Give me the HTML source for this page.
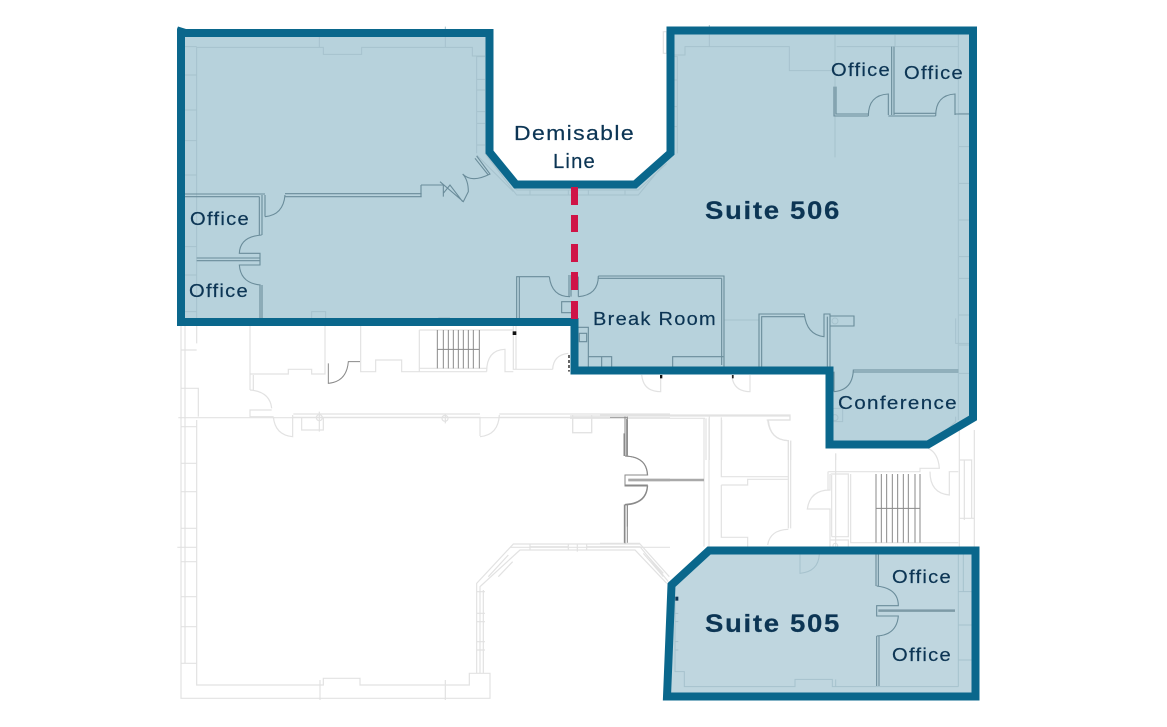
<!DOCTYPE html>
<html><head><meta charset="utf-8"><style>
html,body{margin:0;padding:0;background:#fff;width:1167px;height:727px;overflow:hidden}
svg{display:block}
path,circle,rect.l{vector-effect:non-scaling-stroke;fill:none}
.o{stroke:#e2e2e2;stroke-width:1.2}
.d{stroke:#8a8a8a;stroke-width:1}
.t{stroke:#a9a9a9;stroke-width:2.5}
.i{stroke:#a6c2cd;stroke-width:1}
.k{stroke:#6a8c9a;stroke-width:1.1}
.kt{stroke:#7d9aa6;stroke-width:2.5}
text{font-family:"Liberation Sans",sans-serif;fill:#0c3554;font-size:18.5px;letter-spacing:1.2px;stroke:#0c3554;stroke-width:.2}
text.b{font-weight:bold;font-size:25px;letter-spacing:1.5px}
</style></head><body>
<svg width="1167" height="727" viewBox="0 0 1167 727" xmlns="http://www.w3.org/2000/svg">
<rect width="1167" height="727" fill="#fff"/>

<!-- fills -->
<path style="fill:#b7d2dc" d="M181,33H489.5V152L516,184.5H635L670.5,153V30.5H973V418L928,444.5H829.5V370.5H574.5V322H181Z"/>
<path style="fill:#bfd6df" d="M709,550.5H975.5V696.5H667L671.5,585Z"/>

<!-- lower-left plan -->
<g transform="translate(170,320) scale(.33333)">
<path class="o" d="M33,18V1135H960V1060H898V1095H570V1075H460V1095H80V300M80,18V70M45,18V1030M33,90H80M33,205H85V290M33,320H80M33,430H80M33,515H80M33,625H80M33,725H80M33,830H80M33,920H80V1030M33,1030H80M25,293H1500M22,682H80M1020,682H1500M450,1080V1140M826,1080V1140"/>
<path class="o" d="M240,18V210M240,162H355V148H425V162H465V18M572,18V155H617V120H695V155H748M748,30V155H950M748,145H950M748,30H1030M950,155Q950,90 1005,88V155H1030M1030,18V148H1148M1038,18V148M1148,148Q1150,105 1195,100"/>
<path class="o" d="M240,210Q300,215 305,265M240,268V290H310M240,270H305M250,165V210M370,282H930M370,292H930V348M310,290Q315,345 368,350V285M930,350Q985,345 988,285M988,282H1500M988,292H1320M395,292V330H460V292M1208,285V338H1265V285M448,275V335M826,280V310"/>
<circle class="o" cx="448" cy="293" r="9"/><circle class="o" cx="825" cy="295" r="9"/>
<path class="o" d="M930,1060V800L1050,690H1395L1490,790M920,1060V790L1030,672H1410L1498,770M940,810V1060M920,815H945M920,880H945M920,905H945M920,965H945M920,990H945M955,770L1015,705M985,770L1028,725M1080,672V690M1195,672V690M1222,670V695M1250,672V690M1430,705L1480,760M1080,680H1195M1250,680H1365"/>
<path class="d" d="M802,30V145M820,30V145M835,30V145M850,30V145M865,30V145M880,30V145M895,30V145M910,30V145M928,30V145M802,88H928"/>
<path class="d" d="M475,130V190Q530,185 535,125H570"/>
<path class="d" d="M1320,292H1370V408M1362,340V408M1365,408Q1430,410 1432,465H1365V495H1432Q1430,550 1365,553M1363,553V670M1372,553V670"/>
<path class="t" d="M1375,480H1500"/>
<rect x="1028" y="34" width="11" height="11" fill="#111"/>
<path d="M1197,105V155" style="stroke:#333;stroke-width:1.5;stroke-dasharray:3 2"/>
</g>

<!-- middle lower / stairs -->
<g transform="translate(600,400) scale(.33333)">
<path class="o" d="M0,45H570V60H500M503,60Q510,120 565,122V385M572,122V385M364,52V230H563M364,255H443V238H563M364,255V412H443V440M503,435Q510,390 565,388M312,55V440M327,55V440M0,440H120L205,545M0,430H120M130,460L190,530"/>
<path class="o" d="M685,215H960V205H1018Q1015,160 985,145M990,215Q990,280 1048,285V215H1075M695,225V410M752,222V428H1075M692,222H745V410H695M690,222V270Q630,270 622,327H690V440M692,420H745V440M707,160V440M684,215V270M1078,90V440M1093,180V360M1123,90V440M1078,180H1115V250M1078,355H1123M1115,250V355"/>
<circle class="o" cx="706" cy="437" r="7"/>
<path class="d" d="M828,222V428M844,222V428M860,222V428M877,222V428M893,222V428M910,222V428M925,222V428M945,222V428M960,222V428M828,325H960"/>
<path class="d" d="M75,50V168M82,60V168M75,168Q140,170 143,225H75V258H143Q140,312 75,315M75,315V430M82,315V380"/>
<path class="t" d="M85,240H312"/>
</g>

<!-- 505 internals -->
<g transform="translate(600,400) scale(.33333)">
<path class="i" d="M600,463V520Q655,515 658,463M225,600V815H253V860H585V838H697V860H1075M707,838V860M1075,463V860M1090,463V575M1075,575H1115M1075,675H1115M1075,780H1115M225,640H235M225,665H235M225,725H235M225,750H235"/>
<path class="k" d="M828,463V558M835,463V558M830,558Q895,565 895,617H830V648H895Q890,705 830,708M830,708V858M837,708V858"/>
<path class="kt" d="M835,632H1065"/>
<rect x="226" y="590" width="9" height="12" fill="#0c3554"/>
</g>

<!-- left suite internals -->
<g transform="translate(170,20) scale(.33333)">
<path class="i" d="M80,895V82H448M448,50V82H460V103H575V82H907V108H945M826,20V82M920,108V400M45,80H80M45,165H80M45,270H80M45,362H80M45,465H80M45,680H80M45,765H80M45,875H80M920,110H945M920,178H945M920,210H945M920,275H945M920,310H945M920,375H945M945,400L1040,525H1210M920,405L1030,515M960,420L1040,510M1080,510V525M1195,510V525M1040,510H1210M425,895V875H467V895M805,893H840"/>
<path class="k" d="M45,522H285M45,530H268M268,530V645M276,525V645M285,525V590M285,590Q340,585 345,525M345,521H755M345,530H755M753,495H820V530M753,495V530M810,485L880,545L895,515Q895,480 878,462M820,520L840,495L878,545M878,462Q905,490 960,462L920,408M915,415L955,465"/>
<path class="k" d="M80,714H270M80,722H270M275,645Q210,650 208,700H270V735H208Q212,790 272,795M270,795V895M276,795V895"/>
<path class="k" d="M1040,895V770H1138M1048,895V770M1138,770Q1145,830 1200,830M1197,830V765M1203,830V765M1175,845H1205V878H1175Z"/>
</g>

<!-- 506 internals -->
<g transform="translate(570,20) scale(.33333)">
<path class="i" d="M312,105H345V80H658V152H795M418,15V80M795,45V412M800,80H1165M975,45V80M1165,40V1200M1198,280H1165M1167,380H1198M1167,490H1198M1167,600H1198M1167,710H1198M1167,775H1198M1167,885H1198M1157,895V970H1198M1167,975H1198M1167,1060H1198M312,110H322V400M312,180H322M312,260H322M312,320H322M312,395L205,525H22M290,430L205,510H22M55,510V525M165,510V525M462,900H567M1157,1190V1205L1130,1230"/>
<path class="k" d="M792,200V288H895M798,200V282H895M895,288Q895,225 955,222V285M965,80V285M972,80V285M955,288H1097M972,280H1097M1097,288Q1097,225 1155,222V285M1155,282H1200"/>
<path class="k" d="M85,768H462V1040M85,775H455M455,775V1035M85,768Q85,825 25,830M25,770V830M55,1040V922H25M55,1010H125V1040M95,1010V1040M308,1040V1010H460M28,940H50V965H28Z"/>
<path class="k" d="M567,1040V882H703M575,1040V890H703M703,882Q710,945 762,950V882H780V1040M772,890V1040M780,888H852V918H780M792,1055V1115M792,1115Q848,1110 850,1050H1165M850,1056H1165"/>
<path class="i" d="M790,1165H818V1205H790"/>
<circle class="i" cx="795" cy="1193" r="9"/><circle class="i" cx="795" cy="903" r="9"/>
<path class="o" d="M280,35H290V100H280ZM215,1065Q220,1115 272,1115V1065M485,1065Q490,1115 540,1115V1065"/>
<rect x="270" y="1065" width="7" height="10" fill="#111"/>
<rect x="486" y="1065" width="5" height="10" fill="#222"/>
<path class="o" d="M0,1188H660V1200H595M595,1200Q600,1260 655,1262V1320M662,1262V1320M0,1195H405M408,1195V1320M418,1185V1320M455,1200V1320M797,1300V1320M8,1195V1238H65V1195"/>
<path class="d" d="M165,1190V1305M172,1190V1305"/>
</g>

<!-- outlines -->
<path style="fill:none;stroke:#0a678c;stroke-width:8" d="M181,33H489.5V152L516,184.5H635L670.5,153V30.5H973V418L928,444.5H829.5V370.5H574.5V322H181Z"/>
<path style="fill:#0a678c" d="M177,29L178,26.5L186,29Z"/>
<path style="fill:none;stroke:#0a678c;stroke-width:8" d="M709,550.5H975.5V696.5H667L671.5,585Z"/>

<!-- demising line -->
<g fill="#cf1447">
<rect x="571" y="187" width="7" height="18"/>
<rect x="571" y="215" width="7" height="17"/>
<rect x="571" y="244" width="7" height="18"/>
<rect x="571" y="272" width="7" height="18"/>
<rect x="571" y="301" width="7" height="18"/>
</g>

<!-- labels -->
<text x="514" y="140" textLength="121" lengthAdjust="spacingAndGlyphs" style="font-size:20px">Demisable</text>
<text x="553" y="168" textLength="43" lengthAdjust="spacingAndGlyphs" style="font-size:20px">Line</text>
<text class="b" x="705" y="219" textLength="136" lengthAdjust="spacingAndGlyphs">Suite 506</text>
<text class="b" x="705" y="632" textLength="136" lengthAdjust="spacingAndGlyphs">Suite 505</text>
<text x="190" y="225" textLength="60" lengthAdjust="spacingAndGlyphs">Office</text>
<text x="189" y="297" textLength="60" lengthAdjust="spacingAndGlyphs">Office</text>
<text x="831" y="76" textLength="60" lengthAdjust="spacingAndGlyphs">Office</text>
<text x="904" y="79" textLength="60" lengthAdjust="spacingAndGlyphs">Office</text>
<text x="593" y="325" textLength="124" lengthAdjust="spacingAndGlyphs">Break Room</text>
<text x="838" y="409" textLength="120" lengthAdjust="spacingAndGlyphs">Conference</text>
<text x="892" y="583" textLength="60" lengthAdjust="spacingAndGlyphs">Office</text>
<text x="892" y="661" textLength="60" lengthAdjust="spacingAndGlyphs">Office</text>
</svg>
</body></html>
